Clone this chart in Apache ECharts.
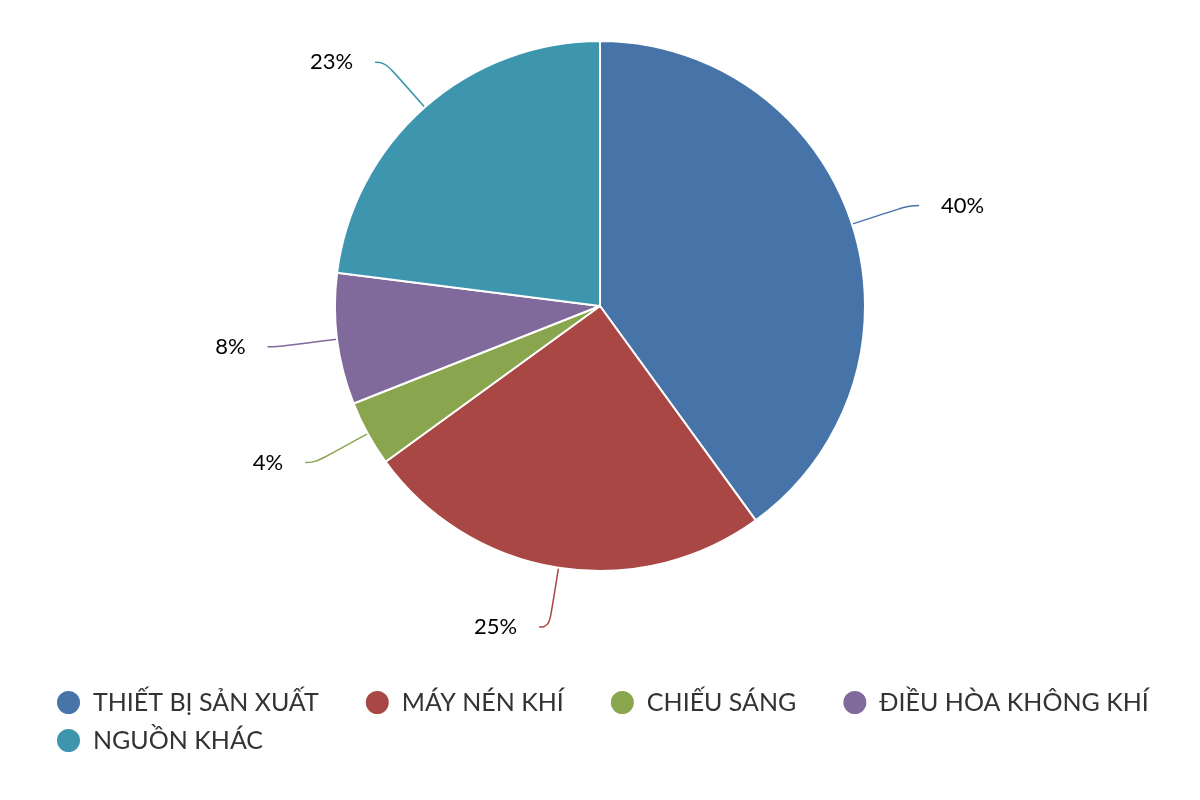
<!DOCTYPE html>
<html><head><meta charset="utf-8">
<script src="https://cdn.jsdelivr.net/npm/echarts@6/dist/echarts.min.js"></script>
<style>html,body{margin:0;padding:0;background:#fff}#c{width:1200px;height:800px}</style>
</head><body><div id="c"></div>
<script>
const categories = ['THIẾT BỊ SẢN XUẤT', 'MÁY NÉN KHÍ', 'CHIẾU SÁNG', 'ĐIỀU HÒA KHÔNG KHÍ', 'NGUỒN KHÁC'];
const values = [40, 25, 4, 8, 23];
const colors = ['#4674a8', '#a94744', '#89a54e', '#80699b', '#3e96ae'];
const legendRow1 = categories.slice(0, 4);
const legendRow2 = categories.slice(4);

const legendBase = {
  left: 55, padding: 0, icon: 'circle', itemWidth: 25, itemHeight: 25, itemGap: 45,
  textStyle: { fontFamily: 'Lato', fontSize: 25, color: '#333', padding: [0, 0, 0, 7] }
};

const chart = echarts.init(document.getElementById('c'));
chart.setOption({
  animation: false,
  color: colors,
  legend: [
    Object.assign({}, legendBase, { top: 689, data: legendRow1 }),
    Object.assign({}, legendBase, { top: 727, data: legendRow2 })
  ],
  series: [{
    type: 'pie',
    center: [600, 306],
    radius: [0, 265],
    startAngle: 90,
    clockwise: true,
    itemStyle: { borderColor: '#fff', borderWidth: 2 },
    label: { formatter: '{c}%', fontFamily: 'Lato', fontSize: 22, color: '#000', distanceToLabelLine: 22 },
    labelLine: { length: 60, length2: 10, smooth: 0.5, lineStyle: { width: 1.5 } },
    data: categories.map((n, i) => ({ name: n, value: values[i] }))
  }]
});
</script></body></html>
